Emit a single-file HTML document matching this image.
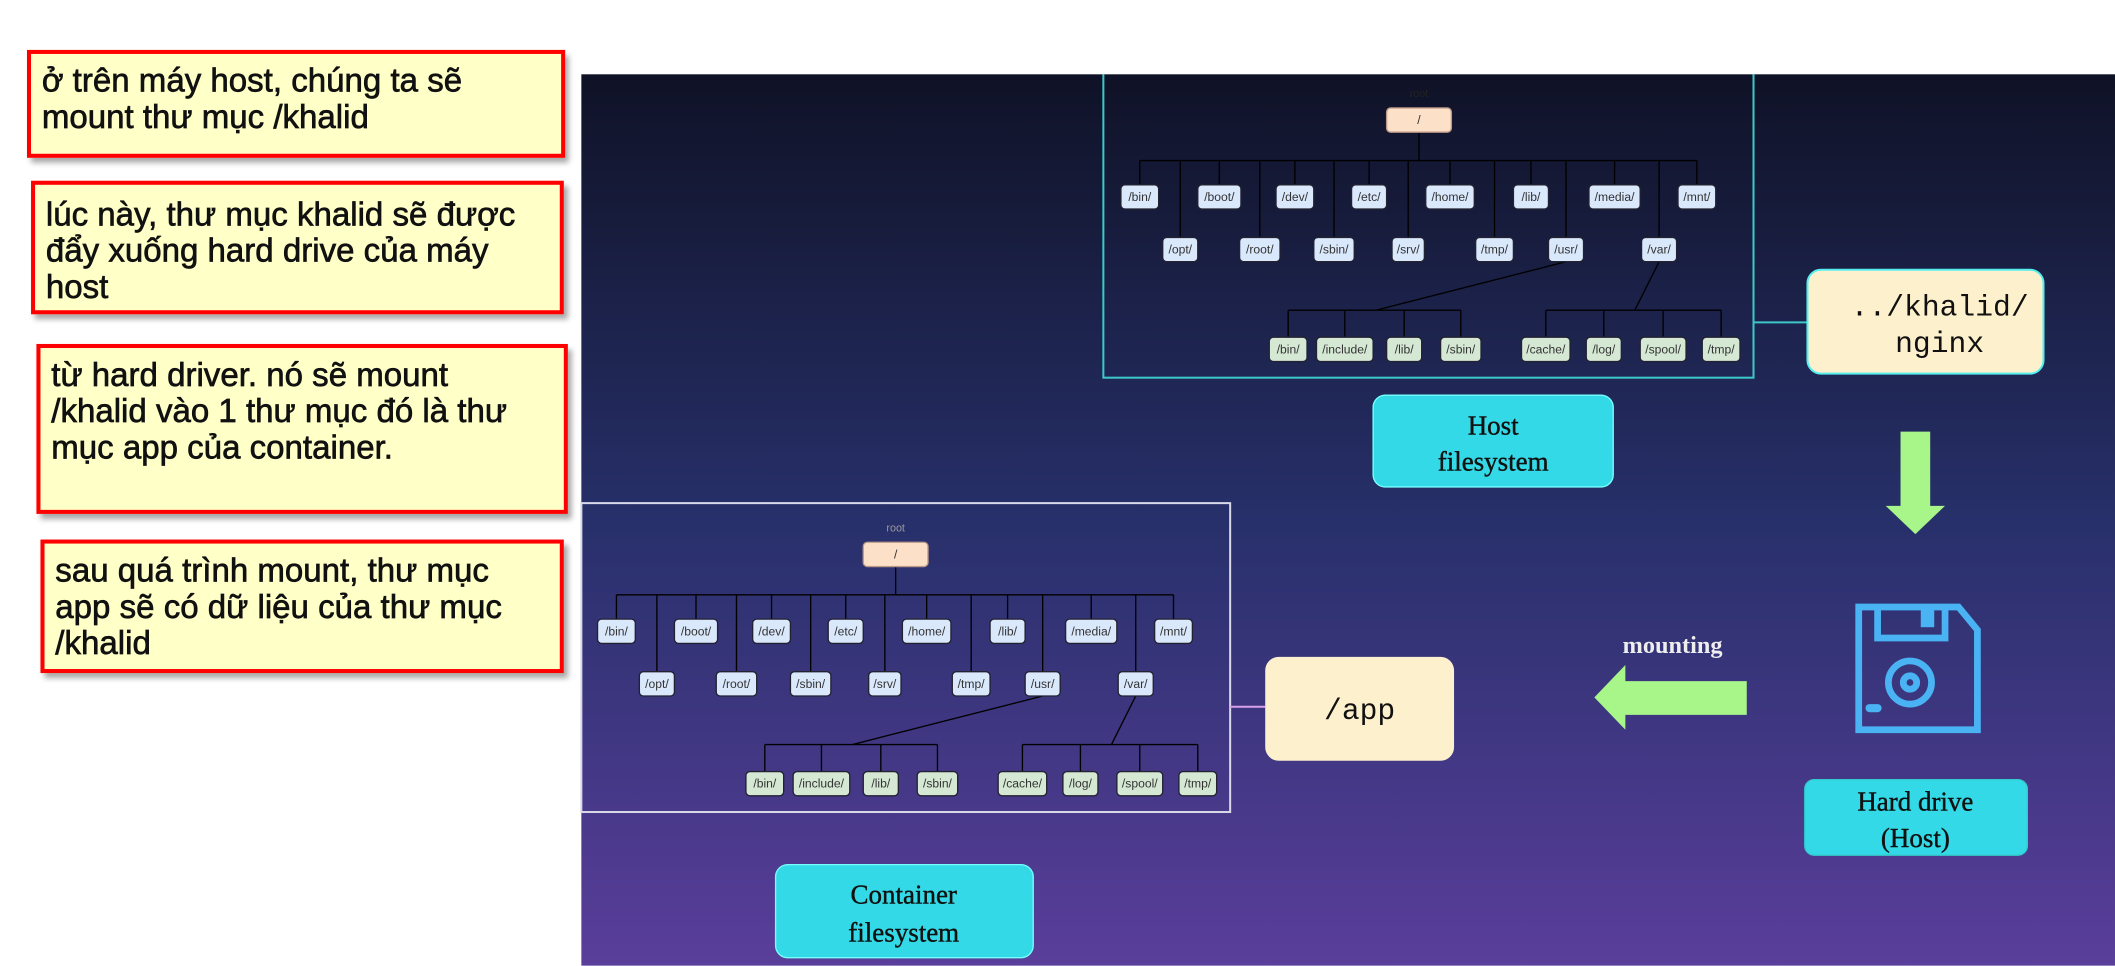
<!DOCTYPE html>
<html><head><meta charset="utf-8"><style>
html,body{margin:0;padding:0;background:#fff;width:2115px;height:966px;overflow:hidden}
#s{position:absolute;left:0;top:0;width:1568px;height:716px;transform:scale(1.34885);transform-origin:0 0}
.n{position:absolute;background:#ffffc8;border:3px solid #f00;box-shadow:3px 4px 4px rgba(0,0,0,.35);font-family:"Liberation Sans","DejaVu Sans",sans-serif;font-size:24.5px;line-height:27px;color:#111;box-sizing:border-box;padding:7px 8px;-webkit-text-stroke:0.5px #111;white-space:nowrap}
</style></head><body><div id="s">
<div class="n" style="left:20px;top:37px;width:399px;height:80px">ở trên máy host, chúng ta sẽ<br>mount thư mục /khalid</div>
<div class="n" style="left:23px;top:134px;width:395px;height:99px;padding-top:9px">lúc này, thư mục khalid sẽ được<br>đẩy xuống hard drive của máy<br>host</div>
<div class="n" style="left:27px;top:255px;width:394px;height:126px;padding-top:7px">từ hard driver. nó sẽ mount<br>/khalid vào 1 thư mục đó là thư<br>mục app của container.</div>
<div class="n" style="left:30px;top:400px;width:388px;height:99px;padding-top:7px">sau quá trình mount, thư mục<br>app sẽ có dữ liệu của thư mục<br>/khalid</div>
<svg style="position:absolute;left:0;top:0" width="1568" height="716" viewBox="0 0 1568 716" font-family="Liberation Sans, sans-serif">
<defs><linearGradient id="g" x1="0" y1="55" x2="0" y2="716" gradientUnits="userSpaceOnUse">
<stop offset="0" stop-color="#0f1226"/><stop offset="0.5" stop-color="#27306a"/><stop offset="1" stop-color="#5a3e9b"/></linearGradient></defs>
<rect x="431" y="55" width="1137" height="661" fill="url(#g)"/>
<rect x="818" y="40" width="482" height="240" fill="none" stroke="#3cc8c8" stroke-width="1.5"/>
<rect x="431" y="373" width="481" height="229" fill="none" stroke="#d8d8e8" stroke-width="1.5"/>
<line x1="1300" y1="239" x2="1340" y2="239" stroke="#3cc8c8" stroke-width="1.5"/>
<line x1="912" y1="524" x2="938" y2="524" stroke="#d9a0e8" stroke-width="1.5"/>
<g transform="translate(1052,0)" font-size="9" fill="#333" text-anchor="middle" stroke-width="1">
<text x="0" y="72" font-size="8" fill="#222">root</text>
<g stroke="#000" fill="none">
<line x1="0" y1="98" x2="0" y2="119"/><line x1="-207" y1="119" x2="206" y2="119"/>
<path d="M-207 119V137M-148 119V137M-92 119V137M-37 119V137M23 119V137M83 119V137M145 119V137M206 119V137M-177 119V176M-118 119V176M-63 119V176M-8 119V176M56 119V176M109 119V176M178 119V176"/>
<path d="M109 194L-32 230M178 194L160 230M-97 230H31M94 230H224M-97 230V250M-55 230V250M-11 230V250M31 230V250M94 230V250M137 230V250M181 230V250M224 230V250"/>
</g>
<rect x="-24" y="80" width="48" height="18" rx="3" fill="#fde0c8" stroke="#b98" /><text x="0" y="92">/</text>
<g fill="#dae8fc" stroke="#223">
<rect x="-221" y="137" width="28" height="18" rx="3"/><rect x="-164" y="137" width="32" height="18" rx="3"/><rect x="-106" y="137" width="28" height="18" rx="3"/><rect x="-50" y="137" width="26" height="18" rx="3"/><rect x="5" y="137" width="36" height="18" rx="3"/><rect x="70" y="137" width="26" height="18" rx="3"/><rect x="126" y="137" width="38" height="18" rx="3"/><rect x="192" y="137" width="28" height="18" rx="3"/>
<rect x="-190" y="176" width="26" height="18" rx="3"/><rect x="-133" y="176" width="30" height="18" rx="3"/><rect x="-78" y="176" width="30" height="18" rx="3"/><rect x="-20" y="176" width="24" height="18" rx="3"/><rect x="42" y="176" width="28" height="18" rx="3"/><rect x="96" y="176" width="26" height="18" rx="3"/><rect x="165" y="176" width="26" height="18" rx="3"/>
</g>
<g fill="#d5e8d4" stroke="#223">
<rect x="-111" y="250" width="28" height="18" rx="3"/><rect x="-76" y="250" width="42" height="18" rx="3"/><rect x="-24" y="250" width="26" height="18" rx="3"/><rect x="16" y="250" width="30" height="18" rx="3"/>
<rect x="76" y="250" width="36" height="18" rx="3"/><rect x="124" y="250" width="26" height="18" rx="3"/><rect x="164" y="250" width="34" height="18" rx="3"/><rect x="210" y="250" width="28" height="18" rx="3"/>
</g>
<text x="-207" y="149">/bin/</text><text x="-148" y="149">/boot/</text><text x="-92" y="149">/dev/</text><text x="-37" y="149">/etc/</text><text x="23" y="149">/home/</text><text x="83" y="149">/lib/</text><text x="145" y="149">/media/</text><text x="206" y="149">/mnt/</text>
<text x="-177" y="188">/opt/</text><text x="-118" y="188">/root/</text><text x="-63" y="188">/sbin/</text><text x="-8" y="188">/srv/</text><text x="56" y="188">/tmp/</text><text x="109" y="188">/usr/</text><text x="178" y="188">/var/</text>
<text x="-97" y="262">/bin/</text><text x="-55" y="262">/include/</text><text x="-11" y="262">/lib/</text><text x="31" y="262">/sbin/</text><text x="94" y="262">/cache/</text><text x="137" y="262">/log/</text><text x="181" y="262">/spool/</text><text x="224" y="262">/tmp/</text>
</g>
<g transform="translate(664,322)" font-size="9" fill="#333" text-anchor="middle" stroke-width="1">
<text x="0" y="72" font-size="8" fill="#999">root</text>
<g stroke="#000" fill="none">
<line x1="0" y1="98" x2="0" y2="119"/><line x1="-207" y1="119" x2="206" y2="119"/>
<path d="M-207 119V137M-148 119V137M-92 119V137M-37 119V137M23 119V137M83 119V137M145 119V137M206 119V137M-177 119V176M-118 119V176M-63 119V176M-8 119V176M56 119V176M109 119V176M178 119V176"/>
<path d="M109 194L-32 230M178 194L160 230M-97 230H31M94 230H224M-97 230V250M-55 230V250M-11 230V250M31 230V250M94 230V250M137 230V250M181 230V250M224 230V250"/>
</g>
<rect x="-24" y="80" width="48" height="18" rx="3" fill="#fde0c8" stroke="#b98" /><text x="0" y="92">/</text>
<g fill="#dae8fc" stroke="#223">
<rect x="-221" y="137" width="28" height="18" rx="3"/><rect x="-164" y="137" width="32" height="18" rx="3"/><rect x="-106" y="137" width="28" height="18" rx="3"/><rect x="-50" y="137" width="26" height="18" rx="3"/><rect x="5" y="137" width="36" height="18" rx="3"/><rect x="70" y="137" width="26" height="18" rx="3"/><rect x="126" y="137" width="38" height="18" rx="3"/><rect x="192" y="137" width="28" height="18" rx="3"/>
<rect x="-190" y="176" width="26" height="18" rx="3"/><rect x="-133" y="176" width="30" height="18" rx="3"/><rect x="-78" y="176" width="30" height="18" rx="3"/><rect x="-20" y="176" width="24" height="18" rx="3"/><rect x="42" y="176" width="28" height="18" rx="3"/><rect x="96" y="176" width="26" height="18" rx="3"/><rect x="165" y="176" width="26" height="18" rx="3"/>
</g>
<g fill="#d5e8d4" stroke="#223">
<rect x="-111" y="250" width="28" height="18" rx="3"/><rect x="-76" y="250" width="42" height="18" rx="3"/><rect x="-24" y="250" width="26" height="18" rx="3"/><rect x="16" y="250" width="30" height="18" rx="3"/>
<rect x="76" y="250" width="36" height="18" rx="3"/><rect x="124" y="250" width="26" height="18" rx="3"/><rect x="164" y="250" width="34" height="18" rx="3"/><rect x="210" y="250" width="28" height="18" rx="3"/>
</g>
<text x="-207" y="149">/bin/</text><text x="-148" y="149">/boot/</text><text x="-92" y="149">/dev/</text><text x="-37" y="149">/etc/</text><text x="23" y="149">/home/</text><text x="83" y="149">/lib/</text><text x="145" y="149">/media/</text><text x="206" y="149">/mnt/</text>
<text x="-177" y="188">/opt/</text><text x="-118" y="188">/root/</text><text x="-63" y="188">/sbin/</text><text x="-8" y="188">/srv/</text><text x="56" y="188">/tmp/</text><text x="109" y="188">/usr/</text><text x="178" y="188">/var/</text>
<text x="-97" y="262">/bin/</text><text x="-55" y="262">/include/</text><text x="-11" y="262">/lib/</text><text x="31" y="262">/sbin/</text><text x="94" y="262">/cache/</text><text x="137" y="262">/log/</text><text x="181" y="262">/spool/</text><text x="224" y="262">/tmp/</text>
</g>
<rect x="431" y="0" width="1137" height="55" fill="#fff"/>
<g font-family="Liberation Serif, serif" font-size="20" fill="#111" text-anchor="middle" stroke="#111" stroke-width="0.3">
<rect x="1018" y="293" width="178" height="68" rx="9" fill="#33d9e6" stroke="#7ff" stroke-width="1"/>
<text x="1107" y="322">Host</text><text x="1107" y="349">filesystem</text>
<rect x="575" y="641" width="191" height="69" rx="9" fill="#33d9e6" stroke="#7ff" stroke-width="1"/>
<text x="670" y="670">Container</text><text x="670" y="698">filesystem</text>
<rect x="1338" y="578" width="165" height="56" rx="7" fill="#33d9e6" stroke="#3cc" stroke-width="1"/>
<text x="1420" y="601">Hard drive</text><text x="1420" y="628">(Host)</text>
<text x="1240" y="484" font-size="18" font-weight="bold" fill="#eee" stroke="none">mounting</text>
</g>
<g font-family="Liberation Mono, monospace" font-size="22" fill="#111" text-anchor="middle">
<rect x="1340" y="200" width="175" height="77" rx="10" fill="#fdf0cc" stroke="#5ee" stroke-width="1.5"/>
<text x="1438" y="234">../khalid/</text><text x="1438" y="261">nginx</text>
<rect x="938" y="487" width="140" height="77" rx="10" fill="#fdf0cc"/>
<text x="1008" y="533">/app</text>
</g>
<path d="M1409 320H1431V375H1442L1420 396L1398 375H1409Z" fill="#a8f58a"/>
<path d="M1182 517L1205 493V505H1295V530H1205V541Z" fill="#a8f58a"/>
<g fill="none" stroke="#4ab3f4" stroke-width="5">
<path d="M1378 450H1452L1466 467V541H1378Z"/>
<path d="M1392 450V473H1442V450"/>
<circle cx="1416" cy="506" r="16"/><circle cx="1416" cy="506" r="5"/>
</g>
<path d="M1424 452H1434V465H1424Z" fill="#4ab3f4"/>
<rect x="1383" y="522" width="12" height="6" rx="3" fill="#4ab3f4"/>
</svg>
</div></body></html>
